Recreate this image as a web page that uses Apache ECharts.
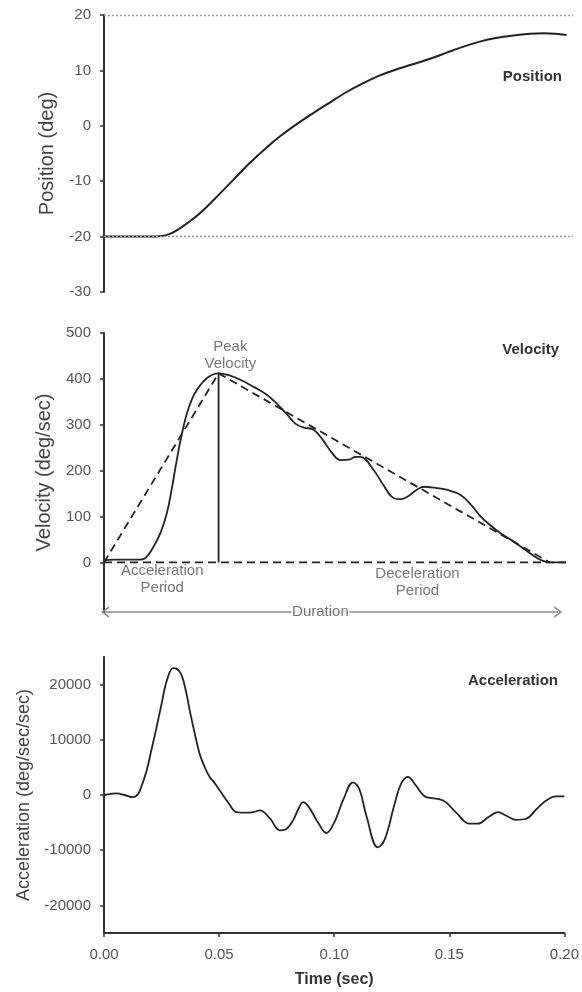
<!DOCTYPE html>
<html><head><meta charset="utf-8">
<script src="https://cdn.jsdelivr.net/npm/echarts@6/dist/echarts.min.js"></script>
<style>html,body{margin:0;padding:0;background:#fff}#c{width:582px;height:992px}</style>
</head><body><div id="c"></div>
<script>
// ---- Position panel ----
const posTime = [0,0.01,0.02,0.025,0.028,0.031,0.034,0.038,0.0416,0.048,0.056,0.063,0.0706,0.0764,0.085,0.0908,0.098,0.1053,0.1125,0.1197,0.127,0.134,0.1415,0.1487,0.156,0.1631,0.17,0.1776,0.185,0.1906,0.196,0.2007];
const posDeg  = [-20,-20,-20,-19.9,-19.6,-19.0,-18.2,-17.0,-15.8,-13.2,-9.8,-6.8,-3.9,-1.9,0.7,2.3,4.2,6.1,7.7,9.1,10.2,11.1,12.1,13.2,14.3,15.2,15.85,16.3,16.6,16.7,16.6,16.4];
const posRefLines = [20, -20];
const posTicks = [-30,-20,-10,0,10,20];

// ---- Velocity panel ----
const velTime = [0,0.005,0.01,0.015,0.018,0.0214,0.0245,0.0272,0.0295,0.0315,0.0337,0.0359,0.038,0.0402,0.0446,0.0496,0.054,0.059,0.065,0.0706,0.075,0.0793,0.083,0.0865,0.0908,0.095,0.0985,0.1024,0.106,0.109,0.111,0.1168,0.121,0.1255,0.1285,0.1313,0.135,0.1385,0.143,0.1487,0.1544,0.159,0.1631,0.1675,0.1718,0.176,0.1805,0.185,0.1892,0.193,0.197,0.2];
const velDeg  = [5,6,6,6,10,34,65,107,165,223,280,325,355,376,402,412,408,398,382,365,345,322,302,294,289,265,240,223,224,230,230,201,168,140,138,143,157,165,163,158,147,125,100,80,63,50,34,18,5,0,0,0];
const peakTime = 0.0496, peakVel = 412, endTime = 0.193;
const triTime = [0, peakTime, endTime];
const triVel  = [0, peakVel, 0];
const baseTime = [0, 0.2];
const baseVel = [0, 0];
const durStart = 0.0005, durEnd = 0.1966, durLevel = -108;
const velTicks = [0,100,200,300,400,500];
const annotLabels = ['Peak\nVelocity', 'Acceleration\nPeriod', 'Deceleration\nPeriod'];
const annotTime = [0.0547, 0.0252, 0.1357];
const annotVel  = [452, -36, -44];
const durLabel = 'Duration', durLabelTime = 0.0937;

// ---- Acceleration panel ----
const accTime = [0,0.003,0.0055,0.009,0.0127,0.0145,0.0156,0.0185,0.0205,0.0228,0.025,0.0272,0.03,0.0315,0.0336,0.0355,0.0373,0.0395,0.0416,0.044,0.046,0.048,0.0503,0.054,0.0576,0.062,0.0648,0.0677,0.072,0.0764,0.079,0.0821,0.0845,0.0865,0.089,0.093,0.0966,0.1,0.104,0.1082,0.111,0.114,0.119,0.122,0.126,0.129,0.132,0.135,0.138,0.14,0.1473,0.153,0.1588,0.1624,0.167,0.1711,0.175,0.179,0.1834,0.188,0.1921,0.1964,0.2];
const accVal  = [0,200,300,0,-400,0,800,4400,8000,12200,16500,20600,23000,22900,21800,19000,15200,11000,7400,4800,3200,2200,800,-1400,-3100,-3200,-3100,-2800,-4200,-6400,-6200,-4600,-2500,-1300,-2200,-5000,-6900,-5000,-800,2300,1000,-3800,-9500,-8000,-2000,2000,3300,2000,300,-400,-1000,-3200,-5200,-5200,-4000,-3100,-3800,-4500,-4300,-2500,-1000,-250,-250];
const accTicks = [-20000,-10000,0,10000,20000];
const timeTicks = [0,0.05,0.1,0.15,0.2];

const pairs = (xs, ys) => xs.map((x, i) => [x, ys[i]]);
const FONT = "'Liberation Sans', Arial, sans-serif";
const LINE = '#222';
const AX = '#333';
const TXT = '#555';
const CHEVRON = 'path://M5,0 L10,10 L8.4,10 L5,3 L1.6,10 L0,10 Z';

function yAxisBase(idx, name, gap, fsz, min, max, ticks) {
  return {
    gridIndex: idx, type: 'value', min: min, max: max,
    name: name, nameLocation: 'middle', nameGap: gap, nameRotate: 90,
    nameTextStyle: { fontFamily: FONT, fontSize: fsz, color: '#444' },
    axisLine: { show: true, lineStyle: { color: AX, width: 2 } },
    axisTick: { show: true, inside: false, length: 4, lineStyle: { color: AX, width: 1.5 }, customValues: ticks },
    axisLabel: { show: true, margin: 13, color: TXT, fontFamily: FONT, fontSize: 15, customValues: ticks, formatter: v => String(v) },
    splitLine: { show: false }
  };
}

const chart = echarts.init(document.getElementById('c'), null, { renderer: 'canvas' });
chart.setOption({
  animation: false,
  backgroundColor: '#fff',
  textStyle: { fontFamily: FONT },
  title: [
    { text: 'Position', right: 15, top: 64, textStyle: { fontFamily: FONT, fontSize: 15, fontWeight: 'bold', color: '#333' } },
    { text: 'Velocity', right: 18, top: 337, textStyle: { fontFamily: FONT, fontSize: 15, fontWeight: 'bold', color: '#333' } },
    { text: 'Acceleration', right: 19, top: 668, textStyle: { fontFamily: FONT, fontSize: 15, fontWeight: 'bold', color: '#333' } }
  ],
  grid: [
    { left: 104, right: 9, top: 15, height: 277 },
    { left: 104, right: 16, top: 333, height: 279 },
    { left: 104, right: 16, top: 657, height: 276 }
  ],
  xAxis: [
    { gridIndex: 0, type: 'value', min: 0, max: 0.2035, show: false },
    { gridIndex: 1, type: 'value', min: 0, max: 0.2, show: false },
    { gridIndex: 2, type: 'value', min: 0, max: 0.2, interval: 0.05,
      name: 'Time (sec)', nameLocation: 'middle', nameGap: 39,
      nameTextStyle: { fontFamily: FONT, fontSize: 16, fontWeight: 'bold', color: '#333' },
      axisLine: { show: true, onZero: false, lineStyle: { color: AX, width: 2 } },
      axisTick: { show: true, length: 4, lineStyle: { color: AX, width: 1.5 }, customValues: timeTicks },
      axisLabel: { margin: 14, color: TXT, fontFamily: FONT, fontSize: 15, customValues: timeTicks, formatter: v => v.toFixed(2) },
      splitLine: { show: false } }
  ],
  yAxis: [
    yAxisBase(0, 'Position (deg)', 47, 20, -30, 20, posTicks),
    yAxisBase(1, 'Velocity (deg/sec)', 50, 20, durLevel, 500, velTicks),
    yAxisBase(2, 'Acceleration (deg/sec/sec)', 66, 18, -25000, 25000, accTicks)
  ],
  series: [
    { type: 'line', xAxisIndex: 0, yAxisIndex: 0, data: pairs(posTime, posDeg), smooth: 0.35, symbol: 'none',
      lineStyle: { color: LINE, width: 2 },
      markLine: { silent: true, symbol: 'none', label: { show: false },
        lineStyle: { type: [2, 2], color: '#999', width: 1.3 },
        data: posRefLines.map(v => ({ yAxis: v })) } },
    { type: 'line', xAxisIndex: 1, yAxisIndex: 1, data: pairs(velTime, velDeg), smooth: 0.4, symbol: 'none',
      lineStyle: { color: LINE, width: 1.8 } },
    { type: 'line', xAxisIndex: 1, yAxisIndex: 1, data: pairs(triTime, triVel), symbol: 'none',
      lineStyle: { color: LINE, width: 1.8, type: [8, 5] } },
    { type: 'line', xAxisIndex: 1, yAxisIndex: 1, data: pairs(baseTime, baseVel), symbol: 'none',
      lineStyle: { color: LINE, width: 1.8, type: [8, 5] },
      markLine: { silent: true, z: 1,
        symbol: [CHEVRON, CHEVRON],
        symbolSize: [12, 8],
        lineStyle: { type: 'solid', color: '#888', width: 1.5 },
        label: { show: false },
        data: [[{ coord: [durStart, durLevel] }, { coord: [durEnd, durLevel] }]] } },
    { type: 'line', xAxisIndex: 1, yAxisIndex: 1, data: [[peakTime, 0], [peakTime, peakVel]], symbol: 'none',
      lineStyle: { color: LINE, width: 1.8 } },
    { type: 'scatter', xAxisIndex: 1, yAxisIndex: 1, symbolSize: 1, itemStyle: { color: 'rgba(0,0,0,0)' }, silent: true, z: 10, clip: false,
      data: annotLabels.map((t, i) => ({ value: [annotTime[i], annotVel[i]],
        label: { show: true, position: 'inside', formatter: t, color: '#555', fontFamily: FONT, fontSize: 15, lineHeight: 17, align: 'center' } }))
        .concat([{ value: [durLabelTime, durLevel],
        label: { show: true, position: 'inside', formatter: durLabel, color: '#555', fontFamily: FONT, fontSize: 15, align: 'center', backgroundColor: '#fff', padding: [1, 1] } }]) },
    { type: 'line', xAxisIndex: 2, yAxisIndex: 2, data: pairs(accTime, accVal), smooth: 0.4, symbol: 'none',
      lineStyle: { color: LINE, width: 1.8 } }
  ]
});
</script></body></html>
